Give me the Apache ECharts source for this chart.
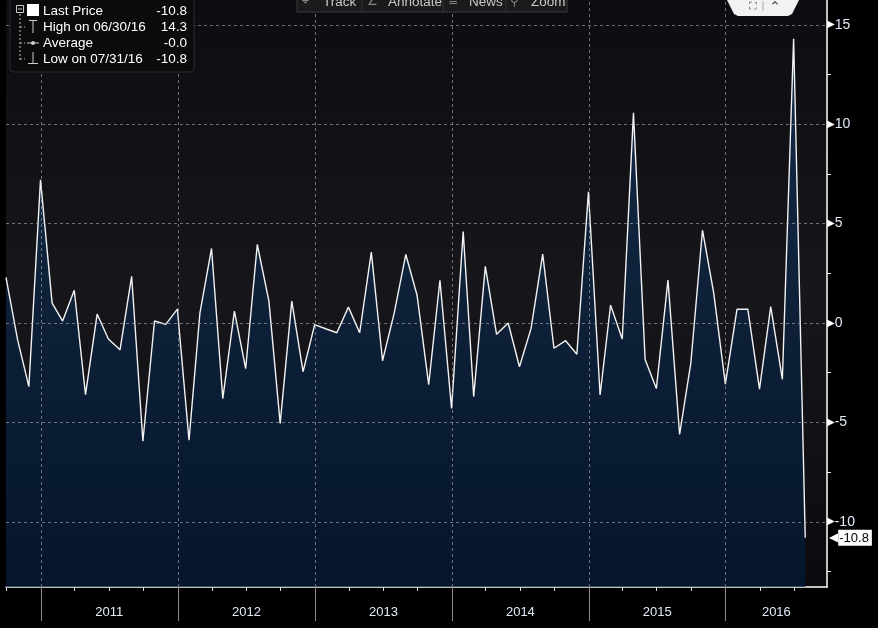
<!DOCTYPE html>
<html><head><meta charset="utf-8">
<script src="https://cdn.jsdelivr.net/npm/echarts@6/dist/echarts.min.js"></script>
<style>html,body{margin:0;padding:0;background:#000;}#c{width:878px;height:628px;}</style>
</head><body><div id="c"></div>
<script>
// ---- data (monthly, month-end, Sep 2010 .. Jul 2016) ----
const startYear = 2010, startMonth = 8; // September (0-based)
const values = [2.3,-0.85,-3.2,7.2,1.0,0.1,1.65,-3.6,0.45,-0.8,-1.35,2.35,
 -5.95,0.1,-0.07,0.7,-5.9,0.5,3.75,-3.8,0.6,-2.3,3.95,1.1,
 -5.05,1.1,-2.45,-0.08,-0.3,-0.49,0.8,-0.49,3.57,-1.9,0.5,3.45,
 1.4,-3.1,2.15,-4.3,4.6,-3.7,2.85,-0.57,0.0,-2.2,-0.27,3.47,
 -1.27,-0.89,-1.57,6.6,-3.62,0.9,-0.8,10.57,-1.83,-3.3,2.16,-5.6,
 -2.0,4.67,1.5,-3.07,0.69,0.69,-3.33,0.82,-2.83,14.3,-10.8];
const yMajorTicks = [-10,-5,0,5,10,15];
const yMinorTicks = [-12.5,-7.5,-2.5,2.5,7.5,12.5];
const yearLabels = ['2011','2012','2013','2014','2015','2016'];
const legendNames = ['Last Price','High on 06/30/16','Average','Low on 07/31/16'];
const legendValues = ['-10.8','14.3','-0.0','-10.8'];
const toolbarItems = ['Track','Annotate','News','Zoom'];
const toolbarIcons = ['\u2316','\u2220','\u2261','\u26B2'];

// ---- derived ----
const dates = values.map((v,i)=>Date.UTC(startYear, startMonth+i+1, 0));
const seriesData = values.map((v,i)=>[dates[i], v]);
const xMin = Date.UTC(2010,8,30), xMax = Date.UTC(2016,8,27);
const yMin = -13.28, yMax = 16.25;
const yearStarts = yearLabels.map(y=>Date.UTC(+y,0,1));
const yearMids = yearLabels.map(y=>{
  const a = Math.max(Date.UTC(+y,0,1), xMin), b = Math.min(Date.UTC(+y+1,0,1), xMax);
  return (a+b)/2;
});
const quarterTicks = [];
for (let k=0; ; k++) { const t = Date.UTC(2010,9+3*k,1); if (t > xMax) break; quarterTicks.push(t); }
const lastVal = values[values.length-1];

const labelColor = '#e2eaf8';
const font = '"Liberation Sans", Arial, sans-serif';
const gridLineStyle = {color:'rgba(175,175,175,0.6)', width:1, type:[3,3]};

const chart = echarts.init(document.getElementById('c'), null, {renderer:'canvas'});

// legend graphic
const g = [];
g.push({type:'rect', shape:{x:10,y:-6,width:184,height:78,r:4}, style:{fill:'#0b0b0e', stroke:'#2c2c30', lineWidth:1}, z:100});
g.push({type:'line', shape:{x1:20,y1:14,x2:20,y2:60}, style:{stroke:'#bbb', lineWidth:1, lineDash:[2,2]}, z:101});
[27,43,59].forEach(y=>g.push({type:'line', shape:{x1:20,y1:y,x2:25,y2:y}, style:{stroke:'#bbb', lineWidth:1, lineDash:[2,2]}, z:101}));
g.push({type:'rect', shape:{x:16.5,y:5.5,width:7,height:7}, style:{fill:'#0b0b0e', stroke:'#ccc', lineWidth:1}, z:102});
g.push({type:'line', shape:{x1:18,y1:9,x2:22,y2:9}, style:{stroke:'#ccc', lineWidth:1}, z:103});
g.push({type:'rect', shape:{x:27,y:4,width:12,height:12}, style:{fill:'#fff'}, z:102});
g.push({type:'line', shape:{x1:29,y1:20.5,x2:37,y2:20.5}, style:{stroke:'#ccc', lineWidth:1}, z:102});
g.push({type:'line', shape:{x1:33,y1:20.5,x2:33,y2:33}, style:{stroke:'#ccc', lineWidth:1}, z:102});
g.push({type:'line', shape:{x1:27,y1:43,x2:39,y2:43}, style:{stroke:'#ccc', lineWidth:1}, z:102});
g.push({type:'circle', shape:{cx:33,cy:43,r:2}, style:{fill:'#ccc'}, z:102});
g.push({type:'line', shape:{x1:33,y1:52,x2:33,y2:63.5}, style:{stroke:'#ccc', lineWidth:1}, z:102});
g.push({type:'line', shape:{x1:28,y1:63.5,x2:38,y2:63.5}, style:{stroke:'#ccc', lineWidth:1}, z:102});
legendNames.forEach((n,i)=>{
  const y = 11 + i*16;
  g.push({type:'text', x:43, y:y, style:{text:n, fill:'#fff', font:'13.5px '+font, textVerticalAlign:'middle'}, z:102});
  g.push({type:'text', x:187, y:y, style:{text:legendValues[i], fill:'#fff', font:'13.5px '+font, textAlign:'right', textVerticalAlign:'middle'}, z:102});
});
// toolbar
g.push({type:'rect', shape:{x:297,y:-10,width:270,height:22}, style:{fill:'#1b1b1d', stroke:'#3a3a3c', lineWidth:1}, z:100});
const tbX = [302, 367, 448, 510], tbSep = [362, 443, 506];
tbSep.forEach(x=>g.push({type:'line', shape:{x1:x,y1:-10,x2:x,y2:12}, style:{stroke:'#333', lineWidth:1}, z:101}));
toolbarItems.forEach((t,i)=>{
  g.push({type:'text', x:tbX[i], y:2, style:{text:toolbarIcons[i], fill:'#888', font:'12px "DejaVu Sans"', textVerticalAlign:'middle'}, z:102});
  g.push({type:'text', x:tbX[i]+21, y:2, style:{text:t, fill:'#c8c8c8', font:'13.5px '+font, textVerticalAlign:'middle'}, z:102});
});
// top-right tab
g.push({type:'polygon', shape:{points:[[727,0],[799,0],[792,14],[788,16],[738,16],[734,14]]}, style:{fill:'#f2f2f2'}, z:100});
g.push({type:'line', shape:{x1:763,y1:1,x2:763,y2:11}, style:{stroke:'#aaa', lineWidth:1}, z:101});
g.push({type:'text', x:753, y:7, style:{text:'\u26F6', fill:'#555', font:'11px "DejaVu Sans"', textAlign:'center', textVerticalAlign:'middle'}, z:101});
g.push({type:'text', x:775, y:8, style:{text:'\u2303', fill:'#555', font:'bold 13px "DejaVu Sans"', textAlign:'center', textVerticalAlign:'middle'}, z:101});

const option = {
  backgroundColor:'#000',
  animation:false,
  grid:{left:6, right:51, top:0, bottom:41, show:true, borderWidth:0,
    backgroundColor:{type:'linear',x:0,y:0,x2:0,y2:1,colorStops:[{offset:0,color:'#0d0d11'},{offset:0.5,color:'#17171b'},{offset:1,color:'#0a0a10'}]}},
  xAxis:[
    {type:'value', min:xMin, max:xMax,
     axisLine:{show:true, onZero:false, lineStyle:{color:'#fff', width:1.5}},
     axisTick:{show:true, customValues:quarterTicks, length:4, lineStyle:{color:'#ddd'}},
     axisLabel:{show:false}, splitLine:{show:false}},
    {type:'value', min:xMin, max:xMax, position:'bottom',
     axisLine:{show:false, onZero:false},
     axisTick:{show:true, customValues:yearStarts, length:34, lineStyle:{color:'#8a8a8a'}},
     axisLabel:{show:true, customValues:yearMids, margin:19, color:labelColor, fontSize:13, fontFamily:font,
       formatter:(v)=>String(new Date(v).getUTCFullYear())},
     splitLine:{show:false}}
  ],
  yAxis:[
    {type:'value', position:'right', min:yMin, max:yMax,
     axisLine:{show:true, onZero:false, lineStyle:{color:'#fff', width:1.5}},
     axisTick:{show:true, customValues:yMinorTicks, length:4, lineStyle:{color:'#fff'}},
     axisLabel:{show:true, customValues:yMajorTicks, margin:0, formatter:(v)=>'{t|\u25B6}{v|'+v+'}',
       rich:{t:{color:'#fff', fontSize:10, fontFamily:'"DejaVu Sans"'}, v:{color:labelColor, fontSize:14, fontFamily:font, padding:[0,0,0,0]}}},
     splitLine:{show:false}},
    {type:'value', position:'right', min:yMin, max:yMax,
     axisLine:{show:false, onZero:false}, axisTick:{show:false}, splitLine:{show:false},
     axisLabel:{show:true, customValues:[lastVal], margin:2,
       formatter:(v)=>'{a|\u25C0}{b|'+v.toFixed(1)+'}',
       rich:{a:{color:'#fff', fontSize:12, fontFamily:'"DejaVu Sans"'},
             b:{color:'#000', backgroundColor:'#fff', fontSize:13, fontFamily:font, padding:[2,3,1,1]}}}}
  ],
  series:[{
    type:'line', data:seriesData, xAxisIndex:0, yAxisIndex:0,
    symbol:'none', lineStyle:{color:'#f2f2f2', width:1.4},
    areaStyle:{origin:'start', color:{type:'linear',x:0,y:0,x2:0,y2:1,colorStops:[{offset:0,color:'#13345c'},{offset:0.45,color:'#0b2647'},{offset:1,color:'#021a38'}]}},
    markLine:{silent:true, symbol:['none','none'], label:{show:false}, lineStyle:gridLineStyle, animation:false,
      data: yMajorTicks.map(v=>({yAxis:v})).concat(yearStarts.map(t=>({xAxis:t})))},
    z:2
  }],
  graphic:g
};
chart.setOption(option);
</script></body></html>
